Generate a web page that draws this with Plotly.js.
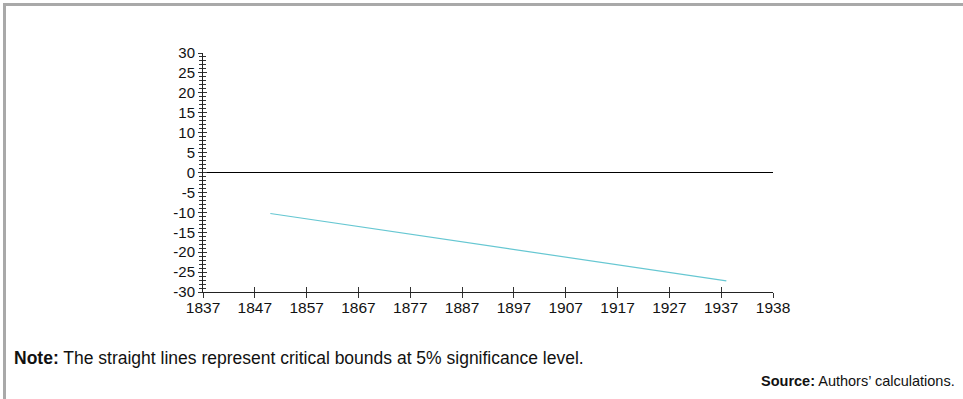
<!DOCTYPE html>
<html>
<head>
<meta charset="utf-8">
<script src="https://cdn.plot.ly/plotly-3.0.1.min.js"></script>
<style>
  html, body { margin: 0; padding: 0; background: #fff; }
  #frame { position: absolute; left: 3px; top: 3px; width: 960px; height: 396px;
           border-top: 3px solid #a9a9a9; border-left: 3px solid #a9a9a9; box-sizing: border-box; }
  #chart { position: absolute; left: 0; top: 0; width: 963px; height: 399px; }
</style>
</head>
<body>
<div id="frame"></div>
<div id="chart"></div>
<script>
// Data
const boundYears = [1850, 1938];
const lowerBound = [-10.3, -27.2];
const xTickVals = [1837, 1847, 1857, 1867, 1877, 1887, 1897, 1907, 1917, 1927, 1937, 1947];
const xTickText = ['1837', '1847', '1857', '1867', '1877', '1887', '1897', '1907', '1917', '1927', '1937', '1938'];
const yTickVals = [-30, -25, -20, -15, -10, -5, 0, 5, 10, 15, 20, 25, 30];
const yTickText = ['-30', '-25', '-20', '-15', '-10', '-5', '0', '5', '10', '15', '20', '25', '30'];
const noteText = '<b>Note:</b> The straight lines represent critical bounds at 5% significance level.';
const sourceText = '<b>Source:</b> Authors\u2019 calculations.';

const font = 'Liberation Sans, Arial, sans-serif';
const xRange = [1837, 1947];
const yRange = [-30, 30];

const traces = [
  { x: boundYears, y: lowerBound, type: 'scatter', mode: 'lines',
    line: { color: '#66c7d2', width: 1.2 }, hoverinfo: 'skip', showlegend: false }
];

const layout = {
  width: 963, height: 399,
  margin: { l: 203, r: 190, t: 53, b: 107 },
  paper_bgcolor: 'rgba(0,0,0,0)', plot_bgcolor: 'rgba(0,0,0,0)',
  font: { family: font, size: 14, color: '#111' },
  showlegend: false,
  xaxis: {
    range: xRange, tickmode: 'array', tickvals: xTickVals, ticktext: xTickText,
    showgrid: false, zeroline: false, showline: true, linecolor: '#222', linewidth: 1,
    ticks: 'outside', ticklen: 1, tickcolor: '#333', tickwidth: 1,
    tickfont: { family: font, size: 15.5, color: '#111' }, fixedrange: true
  },
  xaxis2: {
    range: xRange, overlaying: 'x', tickmode: 'array', tickvals: xTickVals,
    showticklabels: false, showgrid: false, zeroline: false, showline: false,
    ticks: 'inside', ticklen: 5, tickcolor: '#333', tickwidth: 1, anchor: 'y'
  },
  xaxis3: {
    range: xRange, overlaying: 'x', tickmode: 'array', tickvals: xTickVals,
    showticklabels: false, showgrid: false, zeroline: false, showline: false,
    ticks: 'outside', ticklen: 5, tickcolor: '#333', tickwidth: 1, anchor: 'y'
  },
  yaxis: {
    range: yRange, tickmode: 'array', tickvals: yTickVals, ticktext: yTickText,
    showgrid: false, zeroline: true, zerolinecolor: '#000', zerolinewidth: 1.3,
    showline: true, linecolor: '#222', linewidth: 1,
    ticks: 'outside', ticklen: 4, tickcolor: '#333', tickwidth: 1,
    minor: { dtick: 1, ticks: 'outside', ticklen: 3, tickcolor: '#333', tickwidth: 1, showgrid: false },
    tickfont: { family: font, size: 15, color: '#111' }, fixedrange: true
  },
  yaxis2: {
    range: yRange, overlaying: 'y', tickmode: 'array', tickvals: yTickVals,
    showticklabels: false, showgrid: false, zeroline: false, showline: false,
    ticks: 'inside', ticklen: 4, tickcolor: '#333', tickwidth: 1, anchor: 'x',
    minor: { dtick: 1, ticks: 'inside', ticklen: 3, tickcolor: '#333', tickwidth: 1, showgrid: false }
  },
  annotations: [
    { xref: 'paper', yref: 'paper', x: (12 - 203) / 570, y: (292 - 358) / 239,
      xanchor: 'left', yanchor: 'middle', text: noteText, showarrow: false,
      font: { family: font, size: 17.5, color: '#111' } },
    { xref: 'paper', yref: 'paper', x: (957 - 203) / 570, y: (292 - 381) / 239,
      xanchor: 'right', yanchor: 'middle', text: sourceText, showarrow: false,
      font: { family: font, size: 14.5, color: '#111' } }
  ]
};

// invisible traces so the overlay axes (crossing ticks) are drawn
traces.push({ x: [xRange[0]], y: [yRange[0]], xaxis: 'x2', yaxis: 'y2', mode: 'markers',
  marker: { opacity: 0 }, hoverinfo: 'skip', showlegend: false, type: 'scatter' });
traces.push({ x: [xRange[0]], y: [yRange[0]], xaxis: 'x3', yaxis: 'y', mode: 'markers',
  marker: { opacity: 0 }, hoverinfo: 'skip', showlegend: false, type: 'scatter' });

Plotly.newPlot('chart', traces, layout, { displayModeBar: false, staticPlot: true });
</script>
</body>
</html>
